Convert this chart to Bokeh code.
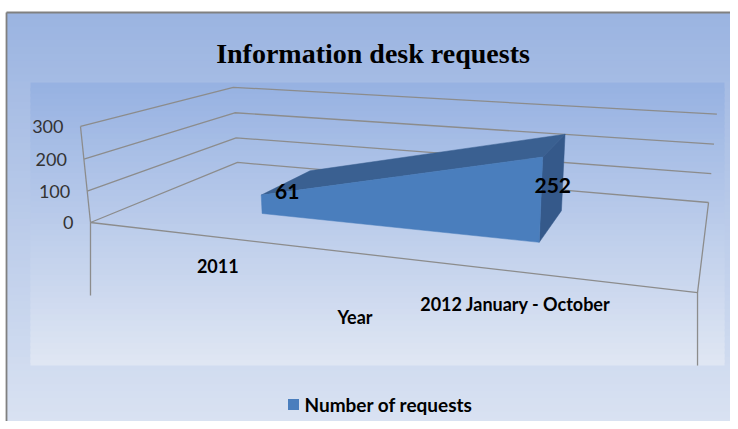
import numpy as np
from bokeh.plotting import figure
from bokeh.models import Range1d
from bokeh.core.properties import value
from bokeh.embed import file_html
from bokeh.resources import INLINE

# ---------------- data ----------------
title_text = "Information  desk requests"
categories = ["2011", "2012 January - October"]
requests = [61, 252]
series_name = "Number of requests"
axis_title = "Year"
y_ticks = [0, 100, 200, 300]
y_max = 300

# ---------------- 3D perspective projection (chart layout) ----------------
# (u: category axis 0..1, v: depth 0..1, w: value/y_max) -> page pixels
M = np.array([
    [465.6, 216.6, -12.4, 90.0],
    [10.8, -12.5, -99.8, 222.0],
    [-0.2029, 0.2935, -0.03, 1.0],
])


def proj(u, v, val):
    u, v, w = np.broadcast_arrays(np.asarray(u, float), np.asarray(v, float),
                                  np.asarray(val, float) / y_max)
    X = M[0, 0] * u + M[0, 1] * v + M[0, 2] * w + M[0, 3]
    Y = M[1, 0] * u + M[1, 1] * v + M[1, 2] * w + M[1, 3]
    Z = M[2, 0] * u + M[2, 1] * v + M[2, 2] * w + M[2, 3]
    return (X / Z).tolist(), (Y / Z).tolist()


def hex2rgb(h):
    h = h.lstrip("#")
    return [int(h[i:i + 2], 16) for i in (0, 2, 4)]


def gradient(c0, c1, n):
    a, b = np.array(hex2rgb(c0), float), np.array(hex2rgb(c1), float)
    out = []
    for t in np.linspace(0, 1, n):
        r, g, bb = (a + (b - a) * t).round().astype(int)
        out.append("#%02x%02x%02x" % (r, g, bb))
    return out


p = figure(width=730, height=421, x_range=Range1d(0, 730), y_range=Range1d(421, 0),
           output_backend="svg", toolbar_location=None,
           x_axis_type=None, y_axis_type=None, min_border=0,
           outline_line_color=None, background_fill_color="white",
           border_fill_color="white")
p.xgrid.visible = False
p.ygrid.visible = False

# ---- chart area background (vertical gradient, overlapping strips) ----
n = 60
edges = np.linspace(12, 425, n + 1)
cols = gradient("#9bb4e1", "#d9e2f2", n)
p.quad(left=6, right=735, top=edges[:-1].tolist(),
       bottom=[min(e + 3, 425) for e in edges[1:].tolist()],
       fill_color=cols, line_color=None)
p.line([6, 6], [425, 12], line_color="#808080", line_width=1.8)
p.line([6, 735], [12, 12], line_color="#808080", line_width=1.8)

# ---- plot area background ----
n2 = 50
e2 = np.linspace(82, 365, n2 + 1)
p.quad(left=30, right=724, top=e2[:-1].tolist(),
       bottom=[min(e + 3, 365) for e in e2[1:].tolist()],
       fill_color=gradient("#97b2e2", "#dfe6f3", n2), line_color=None)

grid_col = "#8c8c8c"
# ---- wall gridlines (left wall + back wall) ----
gx, gy = [], []
for t in y_ticks:
    xs, ys = proj([0, 0, 1], [0, 1, 1], [t, t, t])
    gx.append(xs)
    gy.append(ys)
p.multi_line(gx, gy, line_color=grid_col, line_width=1.3)

# ---- floor edges, value axis line and drop lines ----
fx, fy = proj([0, 1, 1], [0, 0, 1], [0, 0, 0])
p.line(fx, fy, line_color=grid_col, line_width=1.3)
ax, ay = proj([0, 0], [0, 0], [0, y_max])
p.line(ax, ay, line_color=grid_col, line_width=1.3)
drop = 73
for uu in (0, 1):
    dx, dy = proj([uu], [0], [0])
    p.line([dx[0], dx[0]], [dy[0], dy[0] + drop], line_color=grid_col, line_width=1.3)

# ---- 3D area series ----
ncat = len(categories)
us = [(i + 0.5) / ncat for i in range(ncat)]
vf, vb = 0.3, 0.7
zeros = [0] * ncat

# top face
tx1, ty1 = proj(us, [vf] * ncat, requests)
tx2, ty2 = proj(us[::-1], [vb] * ncat, requests[::-1])
p.patch(tx1 + tx2, ty1 + ty2, fill_color="#3a6091", line_color="#3a6091", line_width=0.5)
# right side face
sx, sy = proj([us[-1]] * 4, [vf, vb, vb, vf], [requests[-1], requests[-1], 0, 0])
p.patch(sx, sy, fill_color="#35598a", line_color="#35598a", line_width=0.5)
# front face
bx, by = proj(us[::-1], [vf] * ncat, zeros)
p.patch(tx1 + bx, ty1 + by, fill_color="#4a7ebd", line_color="#4a7ebd", line_width=0.5)

# ---- data labels ----
lx, ly = proj(us, [0.5] * ncat, [r / 2 for r in requests])
p.text(lx, ly, text=[str(r) for r in requests], text_align="center",
       text_baseline="middle", text_font=value("Lato"), text_font_style="bold",
       text_font_size=value("21px"), text_color="#000000")

# ---- value tick labels ----
kx, ky = proj([0] * len(y_ticks), [0] * len(y_ticks), y_ticks)
p.text([x - 17 for x in kx], ky, text=[str(t) for t in y_ticks], text_align="right",
       text_baseline="middle", text_font=value("Lato"),
       text_font_size=value("18px"), text_color="#333333")

# ---- category labels ----
cx, cy = proj(us, [0] * ncat, [-0.3 * y_max] * ncat)
p.text([x - 2 for x in cx], cy, text=categories, text_align="center", text_baseline="middle",
       text_font=value("Lato"), text_font_style="bold",
       text_font_size=value("18px"), text_color="#000000")

# ---- axis title ----
yx, yy = proj([0.49], [0], [-0.64 * y_max])
p.text(yx, yy, text=[axis_title], text_align="center", text_baseline="middle",
       text_font=value("Lato"), text_font_style="bold",
       text_font_size=value("18px"), text_color="#000000")

# ---- title ----
p.text([376], [53], text=[title_text], text_align="center", text_baseline="alphabetic",
       text_font=value("Liberation Serif"), text_font_style="bold",
       text_font_size=value("28px"), text_color="#000000")

# ---- legend ----
p.rect([293], [404], width=11, height=11, fill_color="#4a7ebd", line_color=None)
p.text([304], [404], text=[series_name], text_align="left", text_baseline="middle",
       text_font=value("Lato"), text_font_style="bold",
       text_font_size=value("19px"), text_color="#000000")

open("out.html", "w").write(file_html(p, INLINE))
